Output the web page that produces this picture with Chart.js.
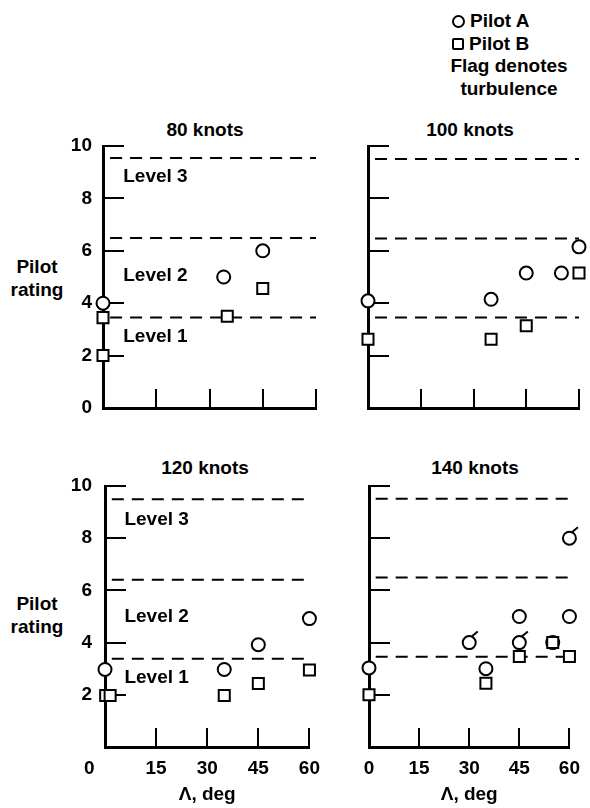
<!DOCTYPE html>
<html>
<head>
<meta charset="utf-8">
<script src="https://cdn.jsdelivr.net/npm/chart.js@4.4.1/dist/chart.umd.min.js"></script>
<style>
  body { margin: 0; background: #fff; }
  #page { position: relative; width: 590px; height: 808px; overflow: hidden;
          font-family: "Liberation Sans", Arial, sans-serif; font-weight: bold; color: #000; }
  .lbl { position: absolute; font-size: 19px; white-space: nowrap; line-height: 1;
         transform: translate(-50%, -50%); text-align: center; }
  .two { line-height: 23px; }
  .legend { position: absolute; left: 452px; top: 10px; font-size: 19px; line-height: 22.5px; }
  .legend .row { display: flex; align-items: center; white-space: nowrap; }
  .legend .note { width: 130px; margin-left: -8px; text-align: center; white-space: nowrap; }
  .sym { display: inline-block; box-sizing: border-box; border: 2px solid #000; margin-right: 5px; }
  .sym.c { width: 13px; height: 13px; border-radius: 50%; }
  .sym.s { width: 12px; height: 12px; border-radius: 2px; }
  canvas { position: absolute; }
</style>
</head>
<body>
<div id="page">
  <div class="legend">
    <div class="row"><span class="sym c"></span>Pilot A</div>
    <div class="row"><span class="sym s"></span>Pilot B</div>
    <div class="note">Flag denotes<br>turbulence</div>
  </div>

  <div class="lbl" style="left:205px; top:129px">80 knots</div>
  <div class="lbl" style="left:470px; top:129px">100 knots</div>
  <div class="lbl" style="left:205px; top:467px">120 knots</div>
  <div class="lbl" style="left:475px; top:467px">140 knots</div>
  <div class="lbl two" style="left:37px; top:278px">Pilot<br>rating</div>
  <div class="lbl two" style="left:37px; top:615px">Pilot<br>rating</div>

  <canvas id="c80" width="330" height="314" style="left:0; top:120px"></canvas>
  <canvas id="c100" width="260" height="314" style="left:330px; top:120px"></canvas>
  <canvas id="c120" width="330" height="368" style="left:0; top:440px"></canvas>
  <canvas id="c140" width="260" height="368" style="left:330px; top:440px"></canvas>
</div>

<script>
// axes
const angleTicks = [0, 15, 30, 45, 60];
const ratingTicks = [0, 2, 4, 6, 8, 10];
const levelNames = ['Level 3', 'Level 2', 'Level 1'];
const levelSpan = [2, 60]; // sweep range covered by the dashed boundaries

// 80 knots
const a80x = [0, 34, 45];
const a80y = [4.0, 5.0, 6.0];
const b80x = [0, 0, 35, 45];
const b80y = [3.45, 2.0, 3.5, 4.56];
const bounds80 = [9.54, 6.49, 3.45];

// 100 knots
const a100x = [0, 35, 45, 55, 60];
const a100y = [4.09, 4.15, 5.15, 5.15, 6.15];
const b100x = [0, 35, 45, 60];
const b100y = [2.62, 2.62, 3.14, 5.15];
const bounds100 = [9.5, 6.47, 3.45];

// 120 knots
const a120x = [0, 35, 45, 60];
const a120y = [2.97, 2.97, 3.92, 4.92];
const b120x = [0.2, 1.5, 35, 45, 60];
const b120y = [1.97, 1.97, 1.97, 2.43, 2.95];
const bounds120 = [9.49, 6.41, 3.38];

// 140 knots (flagged = turbulence)
const a140x = [0, 35, 45, 55, 60];
const a140y = [3.03, 3.0, 5.0, 4.0, 5.0];
const flag140x = [30, 45, 60];
const flag140y = [4.0, 4.0, 8.0];
const b140x = [0, 35, 45, 55, 60];
const b140y = [2.0, 2.44, 3.47, 4.0, 3.47];
const bounds140 = [9.51, 6.49, 3.46];

const levelLabelX = 5.7;
const levelLabelY80 = [8.83, 5.04, 2.7];
const levelLabelY120 = [8.72, 5.0, 2.66];

Chart.defaults.font.family = '"Liberation Sans", Arial, sans-serif';
Chart.defaults.font.weight = 'bold';
Chart.defaults.font.size = 19;
Chart.defaults.color = '#000';

function pts(xs, ys) {
  return xs.map((x, i) => ({ x, y: ys[i] }));
}

// inward tick marks + level names, then turbulence flags on top of markers
const panelDecor = {
  id: 'panelDecor',
  beforeDatasetsDraw(chart, args, opts) {
    const { ctx, scales: { x, y } } = chart;
    ctx.save();
    ctx.strokeStyle = '#000';
    ctx.lineWidth = 2;
    ctx.beginPath();
    y.ticks.forEach(t => {
      if (t.value === 0) return;
      const py = Math.round(y.getPixelForValue(t.value));
      ctx.moveTo(x.left, py);
      ctx.lineTo(x.left + 21, py);
    });
    x.ticks.forEach(t => {
      if (t.value === 0) return;
      const px = Math.round(x.getPixelForValue(t.value));
      ctx.moveTo(px, y.bottom);
      ctx.lineTo(px, y.bottom - 19);
    });
    ctx.stroke();
    if (opts.labelY) {
      ctx.font = 'bold 19px "Liberation Sans", Arial, sans-serif';
      ctx.fillStyle = '#000';
      ctx.textBaseline = 'middle';
      levelNames.forEach((txt, i) => {
        ctx.fillText(txt, x.getPixelForValue(levelLabelX), y.getPixelForValue(opts.labelY[i]));
      });
    }
    ctx.restore();
  },
  afterDatasetsDraw(chart) {
    const { ctx } = chart;
    ctx.save();
    ctx.strokeStyle = '#000';
    ctx.lineWidth = 2;
    ctx.lineCap = 'butt';
    chart.data.datasets.forEach((ds, i) => {
      if (!ds.flag) return;
      chart.getDatasetMeta(i).data.forEach(pt => {
        ctx.beginPath();
        ctx.moveTo(pt.x + 2.5, pt.y - 6);
        ctx.lineTo(pt.x + 8.5, pt.y - 11);
        ctx.stroke();
      });
    });
    ctx.restore();
  }
};

function makePanel(id, p) {
  const circle = {
    pointStyle: 'circle',
    pointRadius: 6.5,
    borderWidth: 2,
    borderColor: '#000',
    backgroundColor: '#fff',
    clip: false,
  };
  const datasets = [
    {
      label: 'Pilot B',
      data: pts(p.bx, p.by),
      pointStyle: 'rect',
      pointRadius: 7.8,
      borderWidth: 2,
      borderColor: '#000',
      backgroundColor: '#fff',
      clip: false,
    },
    { label: 'Pilot A', data: pts(p.ax, p.ay), ...circle },
  ];
  if (p.fx) {
    datasets.push({ label: 'Pilot A, turbulence', data: pts(p.fx, p.fy), flag: true, ...circle });
  }
  p.bounds.forEach(b => {
    datasets.push({
      data: levelSpan.map(x => ({ x, y: b })),
      showLine: true,
      borderColor: '#000',
      borderWidth: 2,
      borderDash: [12, 8],
      pointRadius: 0,
      clip: false,
    });
  });

  return new Chart(document.getElementById(id), {
    type: 'scatter',
    data: { datasets },
    options: {
      responsive: false,
      animation: false,
      events: [],
      layout: { padding: { left: 0, top: p.padTop, right: p.padRight, bottom: 0 } },
      plugins: {
        legend: { display: false },
        tooltip: { enabled: false },
        panelDecor: { labelY: p.labelY },
      },
      scales: {
        x: {
          type: 'linear',
          min: 0,
          max: 60,
          afterBuildTicks: s => { s.ticks = angleTicks.map(v => ({ value: v })); },
          afterFit: s => { s.height = p.xHeight; },
          grid: { display: false, drawTicks: false },
          border: { display: true, color: '#000', width: 3 },
          ticks: {
            display: p.showX,
            padding: 10,
            autoSkip: false,
            maxRotation: 0,
            callback: v => (v === 0 && p.shiftZero ? '0      ' : v),
          },
          title: {
            display: p.showX,
            text: 'Λ, deg',
            padding: { top: 0, bottom: 2 },
          },
        },
        y: {
          min: 0,
          max: 10,
          afterBuildTicks: s => { s.ticks = ratingTicks.map(v => ({ value: v })); },
          afterFit: s => { s.width = p.yWidth; },
          grid: { display: false, drawTicks: false },
          border: { display: true, color: '#000', width: 3 },
          ticks: {
            display: p.showY,
            padding: p.yPad || 11,
            callback: v => (v === 0 && p.hideYZero ? '' : v),
          },
        },
      },
    },
    plugins: [panelDecor],
  });
}

makePanel('c80', {
  ax: a80x, ay: a80y, bx: b80x, by: b80y, bounds: bounds80,
  labelY: levelLabelY80, showY: true, showX: false,
  yWidth: 103, padTop: 26, padRight: 14, xHeight: 26,
});
makePanel('c100', {
  ax: a100x, ay: a100y, bx: b100x, by: b100y, bounds: bounds100,
  showY: false, showX: false,
  yWidth: 38, padTop: 26, padRight: 11, xHeight: 26,
});
makePanel('c120', {
  ax: a120x, ay: a120y, bx: b120x, by: b120y, bounds: bounds120,
  labelY: levelLabelY120, showY: true, showX: true, hideYZero: true, shiftZero: true,
  yWidth: 105, yPad: 13, padTop: 46, padRight: 12, xHeight: 61,
});
makePanel('c140', {
  ax: a140x, ay: a140y, fx: flag140x, fy: flag140y, bx: b140x, by: b140y, bounds: bounds140,
  showY: false, showX: true,
  yWidth: 39, padTop: 46, padRight: 13, xHeight: 61,
});
</script>
</body>
</html>
